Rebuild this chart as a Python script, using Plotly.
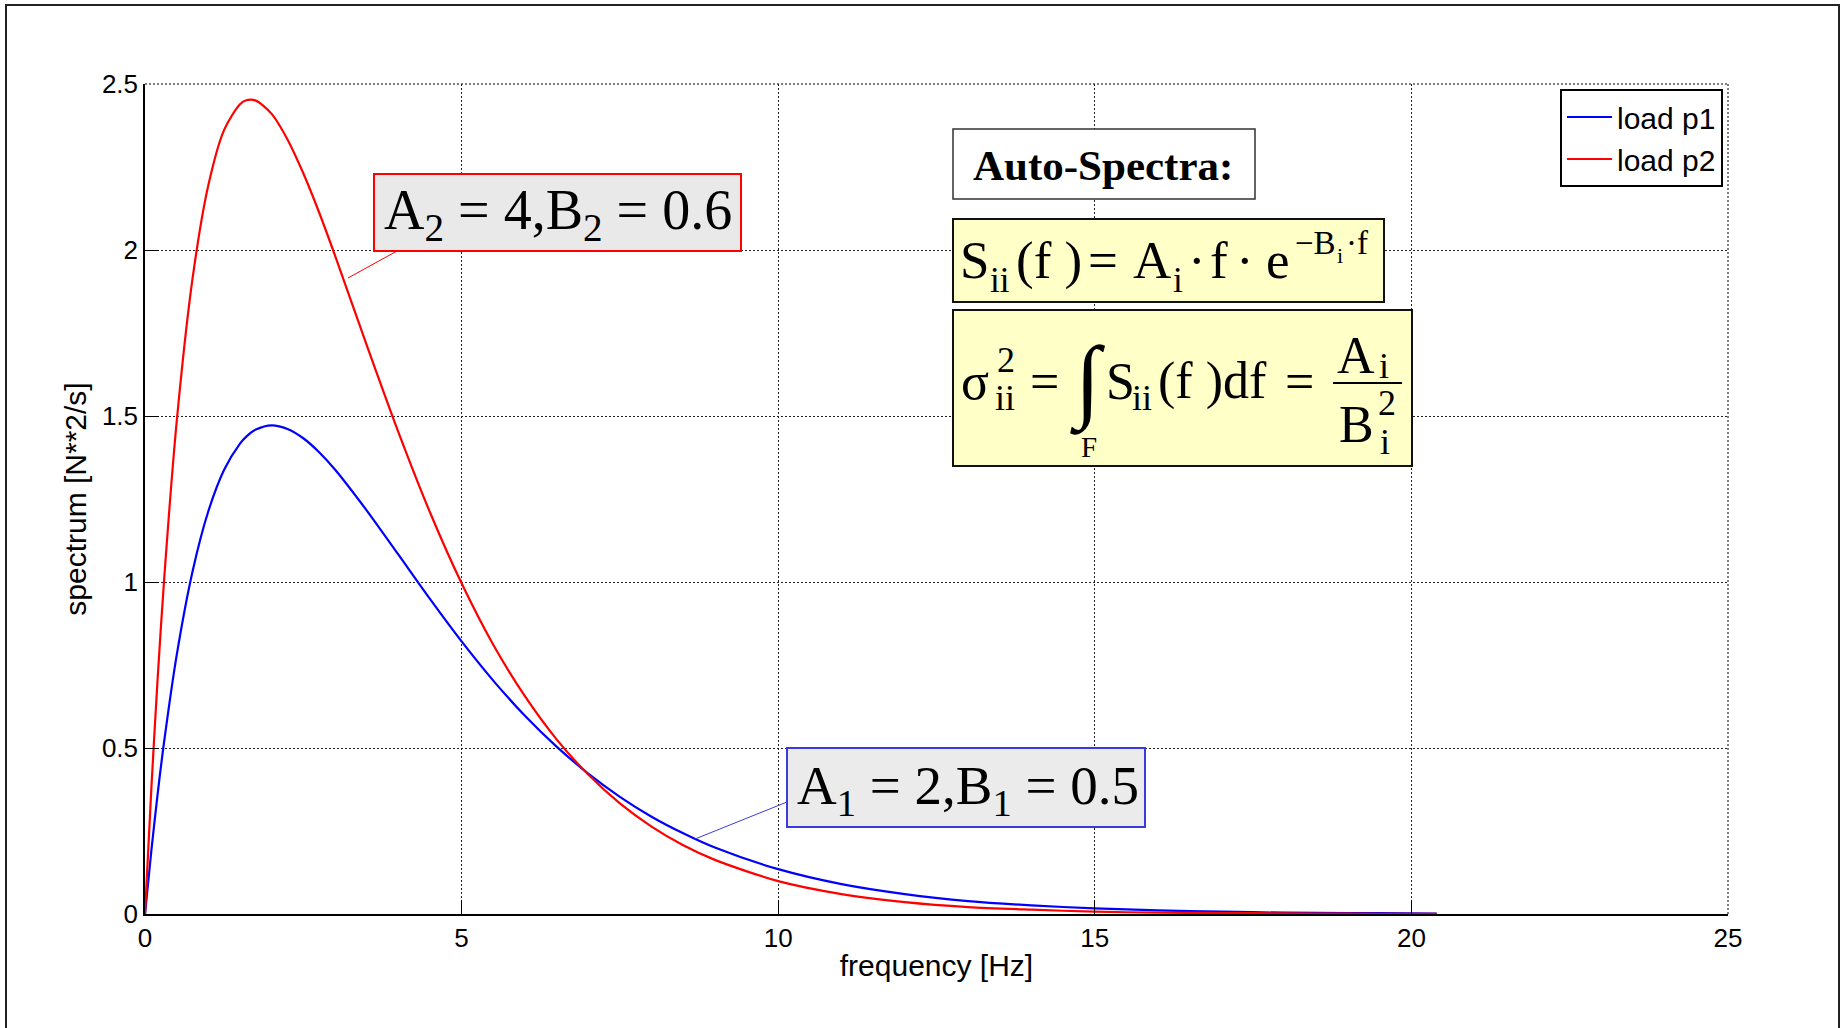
import plotly.graph_objects as go

# Auto-spectra of the two loads, sampled along the frequency axis
freq = [0, 0.1, 0.2, 0.3, 0.5, 0.75, 1, 1.25, 1.5, 1.6, 1.75, 2, 2.25, 2.5, 2.75, 3,
        3.5, 4, 4.5, 5, 5.5, 6, 6.5, 7, 7.5, 8, 8.5, 9, 10, 11, 12, 13, 14, 15,
        16, 17, 18, 19, 20, 20.4]
load_p1 = [0, 0.190, 0.362, 0.516, 0.779, 1.031, 1.213, 1.338, 1.417, 1.438, 1.459,
           1.472, 1.461, 1.433, 1.391, 1.339, 1.216, 1.083, 0.949, 0.821, 0.703,
           0.597, 0.504, 0.423, 0.353, 0.293, 0.243, 0.200, 0.135, 0.090, 0.060,
           0.039, 0.026, 0.017, 0.011, 0.007, 0.004, 0.003, 0.002, 0.0015]
load_p2 = [0, 0.377, 0.710, 1.002, 1.482, 1.913, 2.195, 2.362, 2.439, 2.451, 2.450,
           2.410, 2.333, 2.231, 2.113, 1.984, 1.714, 1.452, 1.210, 0.996, 0.811,
           0.656, 0.526, 0.420, 0.333, 0.263, 0.207, 0.163, 0.099, 0.060, 0.036,
           0.021, 0.013, 0.007, 0.004, 0.003, 0.002, 0.001, 0.0005, 0.0004]
series_names = ["load p1", "load p2"]
x_ticks = [0, 5, 10, 15, 20, 25]
y_ticks = [0, 0.5, 1, 1.5, 2, 2.5]

W, H = 1841, 1028
L, R, T, B = 145, 1728, 84, 914   # plot area in pixels


def px(x):
    return (x - L) / (R - L)


def py(y):
    return (B - y) / (B - T)


SERIF = "Liberation Serif, Times New Roman, serif"
SANS = "Liberation Sans, Arial, Helvetica, sans-serif"

fig = go.Figure()
fig.add_trace(go.Scatter(x=freq, y=load_p1, name=series_names[0], mode="lines",
                         line=dict(color="#0000ff", width=2.2, shape="spline", smoothing=0.8)))
fig.add_trace(go.Scatter(x=freq, y=load_p2, name=series_names[1], mode="lines",
                         line=dict(color="#ff0000", width=2.2, shape="spline", smoothing=0.8)))

shapes = []
annotations = []


def rect(x0, y0, x1, y1, fill, line, lw):
    shapes.append(dict(type="rect", xref="paper", yref="paper",
                       x0=px(x0), x1=px(x1), y0=py(y0), y1=py(y1),
                       fillcolor=fill, line=dict(color=line, width=lw), layer="above"))


def seg(x0, y0, x1, y1, color, lw, dash="solid"):
    shapes.append(dict(type="line", xref="paper", yref="paper",
                       x0=px(x0), x1=px(x1), y0=py(y0), y1=py(y1),
                       line=dict(color=color, width=lw, dash=dash), layer="above"))


def txt(s, x, y, size, anchor="left", family=SERIF):
    annotations.append(dict(text=s, xref="paper", yref="paper", x=px(x), y=py(y),
                            xanchor=anchor, yanchor="middle", showarrow=False,
                            font=dict(family=family, size=size, color="black")))


# outer figure frame
shapes.append(dict(type="rect", xref="paper", yref="paper",
                   x0=px(6), x1=px(1839), y0=py(1040), y1=py(5),
                   line=dict(color="#222222", width=2), fillcolor="rgba(0,0,0,0)"))

# parameter labels with leader lines
seg(348, 278, 397, 251, "#ff0000", 1)
rect(374, 174, 741, 251, "#e9e9e9", "#ff0000", 2)
txt("A<sub>2</sub> = 4,B<sub>2</sub> = 0.6", 382, 214, 56)

seg(695, 839, 787, 802, "#3b3bdd", 1)
rect(787, 748, 1145, 827, "#ebebeb", "#3b3bdd", 2)
txt("A<sub>1</sub> = 2,B<sub>1</sub> = 0.5", 795, 789, 55)

# heading box
rect(953, 129, 1255, 199, "#ffffff", "#333333", 1.5)
txt("<b>Auto-Spectra:</b>", 971, 165, 43)

# spectrum definition: S_ii(f) = A_i * f * exp(-B_i * f)
rect(953, 219, 1384, 302, "#ffffc8", "#111111", 2)
txt("S", 958, 260, 53)
txt("ii", 988, 280, 35)
txt("(f )", 1014, 260, 53)
txt("=", 1086, 260, 53)
txt("A", 1131, 260, 53)
txt("i", 1171, 280, 35)
txt("·", 1186, 260, 53)
txt("f", 1208, 260, 53)
txt("·", 1234, 260, 53)
txt("e", 1264, 260, 53)
txt("−B", 1293, 243, 33)
txt("i", 1335, 255, 22)
txt("·f", 1344, 243, 33)

# variance as the integral of the spectrum
rect(953, 310, 1412, 466, "#ffffc8", "#111111", 2)
txt("σ", 959, 381, 52)
txt("2", 995, 360, 36)
txt("ii", 993, 398, 36)
txt("=", 1028, 381, 52)
txt("∫", 1068, 381, 92)
txt("F", 1079, 447, 29)
txt("S", 1104, 381, 52)
txt("ii", 1130, 398, 36)
txt("(f )df", 1156, 381, 52)
txt("=", 1283, 381, 52)
seg(1333, 383, 1402, 383, "#000000", 2)
txt("A", 1335, 355, 52)
txt("i", 1377, 366, 36)
txt("B", 1337, 424, 52)
txt("2", 1376, 403, 36)
txt("i", 1378, 442, 36)

# dotted outline along the top and right edges of the axes
seg(L, T, R, T, "#000000", 1, "2px,2px")
seg(R, T, R, B, "#000000", 1, "2px,2px")

axis_common = dict(showline=True, linecolor="black", linewidth=1.5,
                   ticks="inside", ticklen=14, tickwidth=1.2, tickcolor="black",
                   showgrid=True, gridcolor="#222222", gridwidth=1, griddash="2px,2px",
                   zeroline=False, tickfont=dict(family=SANS, size=26, color="black"))

fig.update_layout(
    width=W, height=H, autosize=False,
    margin=dict(l=L, r=W - R, t=T, b=H - B),
    paper_bgcolor="white", plot_bgcolor="white",
    xaxis=dict(range=[0, 25], tickvals=x_ticks, **axis_common,
               title=dict(text="frequency [Hz]", standoff=3,
                          font=dict(family=SANS, size=30, color="black"))),
    yaxis=dict(range=[0, 2.5], tickvals=y_ticks, ticktext=["0", "0.5", "1", "1.5", "2", "2.5"],
               **axis_common,
               title=dict(text="spectrum [N**2/s]", standoff=6,
                          font=dict(family=SANS, size=30, color="black"))),
    legend=dict(x=px(1723), y=py(89), xanchor="right", yanchor="top",
                bgcolor="white", bordercolor="black", borderwidth=2,
                font=dict(family=SANS, size=30, color="black"), itemwidth=45,
                tracegroupgap=0),
    shapes=shapes, annotations=annotations,
)

fig.write_html("out.html")
